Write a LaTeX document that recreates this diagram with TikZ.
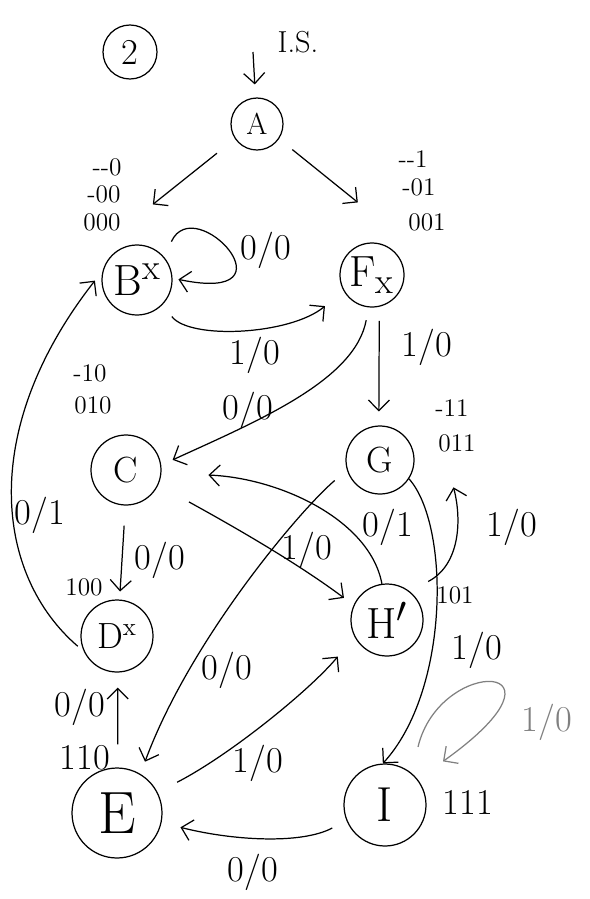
\documentclass[tikz,border=0pt]{standalone}
\usetikzlibrary{arrows.meta}

\begin{document}
\begin{tikzpicture}[
    x=0.02cm, y=-0.02cm,
    >={Straight Barb[length=6pt,width=12pt]},
    state/.style={circle, draw=black, line width=0.7pt, inner sep=0pt,
        font=\Huge},
    edge/.style={line width=0.7pt, ->},
    code/.style={font=\Large, inner sep=0pt},
    lbl/.style={font=\huge, inner sep=1pt}
]
    \fill[white] (0,0) rectangle (589,899);
    \useasboundingbox (0,0) rectangle (589,899);

    \node[state, minimum size=1.08cm, font=\huge] (two) at (130,52) {2};
    \node[state, minimum size=1.04cm, font=\LARGE] (A) at (257,124) {A};
    \node[state, minimum size=1.4cm] (B) at (137,280) {B\textsuperscript{x}};
    \node[state, minimum size=1.28cm] (F) at (372,275) {F\textsubscript{x}};
    \node[state, minimum size=1.4cm, font=\huge] (C) at (126,470) {C};
    \node[state, minimum size=1.36cm, font=\huge] (G) at (380,460) {G};
    \node[state, minimum size=1.44cm] (H) at (387,620) {H$'$};
    \node[state, minimum size=1.44cm, font=\huge] (D) at (117,636) {D\textsuperscript{x}};
    \node[state, minimum size=1.8cm, font=\fontsize{34}{40}\selectfont] (E) at (117,813) {E};
    \node[state, minimum size=1.64cm, font=\fontsize{28}{34}\selectfont] (I) at (385,805) {I};

    \coordinate (is) at (253,52);
    \node[code, font=\LARGE] (isl) at (298,42) {I.S.};

    \node[code] (cB1) at (107,167) {-{}-0};
    \node[code] (cB2) at (104,194) {-00};
    \node[code] (cB3) at (102,222) {000};
    \node[code] (cF1) at (413,159) {-{}-1};
    \node[code] (cF2) at (419,187) {-01};
    \node[code] (cF3) at (427,222) {001};
    \node[code] (cC1) at (90,373) {-10};
    \node[code] (cC2) at (93,405) {010};
    \node[code] (cG1) at (452,408) {-11};
    \node[code] (cG2) at (457,443) {011};
    \node[code] (cD) at (84,587) {100};
    \node[code, font=\huge] (cE) at (85,758) {110};
    \node[code] (cH) at (455,595) {101};
    \node[code, font=\huge] (cI) at (468,802) {111};

    \draw[edge, shorten >=0.26cm] (is) -- (A);
    \draw[edge, shorten <=0.46cm] (A.214) -- ([xshift=0.44cm, yshift=0.81cm]B.100);
    \draw[edge, shorten <=0.34cm] (A.-34) -- ([xshift=-0.17cm, yshift=0.81cm]F.100);
    \draw[edge, shorten <=0.34cm, shorten >=0.12cm] (B.40) .. controls (195,190) and (300,305) .. (B.3);
    \draw[edge, shorten <=0.3cm, shorten >=0.48cm] (B.-44) .. controls (190,340) and (290,335) .. (F.209);
    \draw[edge, shorten <=0.26cm, shorten >=0.25cm] (F.-96) .. controls (355,380) and (260,420) .. (C.8);
    \draw[edge, shorten <=0.28cm, shorten >=0.28cm] (F.-77) -- (G.92);
    \draw[edge, shorten <=0.4cm, shorten >=0.16cm] (C.-91) -- (D.86);
    \draw[edge, shorten <=0.7cm, shorten >=0.24cm] (C.-25) .. controls (240,530) and (300,565) .. (H.156);
    \draw[edge, shorten >=0.94cm] (H.98) .. controls (370,520) and (280,478) .. (C.-5);
    \draw[edge, shorten <=0.42cm] (H.52) .. controls (460,565) and (462,520) .. ([xshift=0.82cm, yshift=-0.31cm]G.-20);
    \draw[edge, shorten <=0.32cm, shorten >=0.26cm] (G.197) .. controls (300,510) and (190,640) .. (E.59);
    \draw[edge] (G.-33) .. controls (450,525) and (450,690) .. (I.93);
    \draw[edge, gray, shorten <=0.54cm, shorten >=0.62cm] (I.50) .. controls (440,655) and (585,660) .. (I.38);
    \draw[edge, shorten <=0.16cm, shorten >=0.25cm] (D.205) .. controls (-5,575) and (-22,430) .. (B.165);
    \draw[edge, shorten <=0.46cm, shorten >=0.3cm] (E.89) -- (D.-89);
    \draw[edge, shorten <=0.44cm, shorten >=0.52cm] (E.27) .. controls (230,755) and (310,690) .. (H.207);
    \draw[edge, shorten <=0.32cm, shorten >=0.39cm] (I.202) .. controls (300,845) and (230,840) .. (E.-12);

    \node[lbl] (lBB) at (266,250) {0/0};
    \node[lbl] (lBF) at (255,355) {1/0};
    \node[lbl] (lFC) at (248,410) {0/0};
    \node[lbl] (lFG) at (427,347) {1/0};
    \node[lbl] (lCD) at (160,560) {0/0};
    \node[lbl] (lCH) at (307,550) {1/0};
    \node[lbl] (lHC) at (388,527) {0/1};
    \node[lbl] (lHG) at (512,527) {1/0};
    \node[lbl] (lGE) at (227,670) {0/0};
    \node[lbl] (lGI) at (477,650) {1/0};
    \node[lbl, gray] (lII) at (547,722) {1/0};
    \node[lbl] (lDB) at (40,515) {0/1};
    \node[lbl] (lED) at (80,707) {0/0};
    \node[lbl] (lEH) at (258,763) {1/0};
    \node[lbl] (lIE) at (253,872) {0/0};
\end{tikzpicture}
\end{document}
